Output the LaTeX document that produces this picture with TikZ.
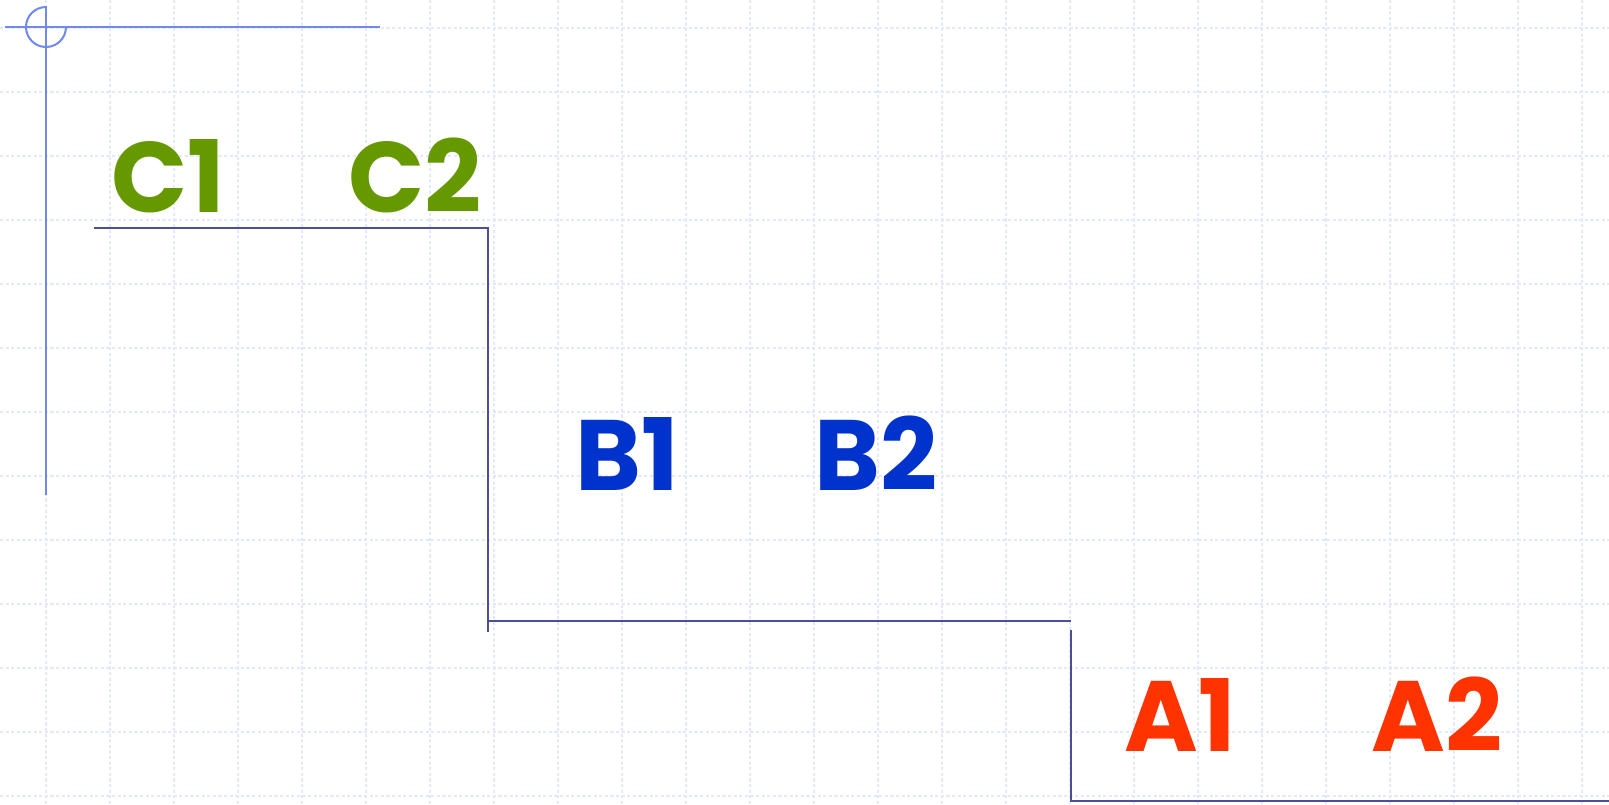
\documentclass[tikz,border=0pt]{standalone}
\usepackage{fontspec}
\setmainfont{Poppins}
\usepackage{xcolor}
\usepackage{tikz}
\usetikzlibrary{positioning}

\definecolor{gridblue}{HTML}{E3E8FB}
\definecolor{crossblue}{HTML}{7088F0}
\definecolor{stairnavy}{HTML}{4B4F96}
\definecolor{cgreen}{HTML}{669900}
\definecolor{bblue}{HTML}{0033CC}
\definecolor{ared}{HTML}{FF3300}

\begin{document}
\begin{tikzpicture}[
    x=0.5pt, y=-0.5pt,
    gridline/.style={gridblue, line width=0.8pt, dash pattern=on 1.6pt off 1.2pt},
    cross/.style={crossblue, line width=1pt},
    stair/.style={stairnavy, line width=1.2pt},
    lab/.style={anchor=base, inner sep=0pt, font=\fontsize{50}{50}\selectfont\bfseries},
    every node/.style={inner sep=0pt}
]
\useasboundingbox[fill=white] (0,0) rectangle (1609,804);

% background grid
\foreach \gx in {0,...,24}
  \draw[gridline] ({46+64*\gx},0) -- ({46+64*\gx},804);
\foreach \gy in {0,...,12}
  \draw[gridline] (0,{28+64*\gy}) -- (1609,{28+64*\gy});

% corner cross
\coordinate (origin) at (46,27);
\draw[cross] (5,27) -- (380,27);
\draw[cross] (46,6) -- (46,495);
\draw[cross] (46,7) arc[start angle=270, end angle=0, radius=20];

% staircase
\coordinate (c-start) at (94,228);
\coordinate (c-corner) at (488,228);
\coordinate (b-top) at (488,632);
\coordinate (b-start) at (488,621);
\coordinate (b-end) at (1071,621);
\coordinate (a-top) at (1071,630);
\coordinate (a-corner) at (1071,801);
\coordinate (a-end) at (1609,801);
\draw[stair] (c-start) -- (c-corner) -- (b-top);
\draw[stair] (b-start) -- (b-end);
\draw[stair] (a-top) -- (a-corner) -- (a-end);

% level labels
\node[lab, cgreen] (c1) at (168,212) {C1};
\node[lab, cgreen] (c2) at (415,212) {C2};
\node[lab, bblue] (b1) at (627,490) {B1};
\node[lab, bblue] (b2) at (876,490) {B2};
\node[lab, ared] (a1) at (1180,751) {A1};
\node[lab, ared] (a2) at (1437,751) {A2};

\end{tikzpicture}
\end{document}
